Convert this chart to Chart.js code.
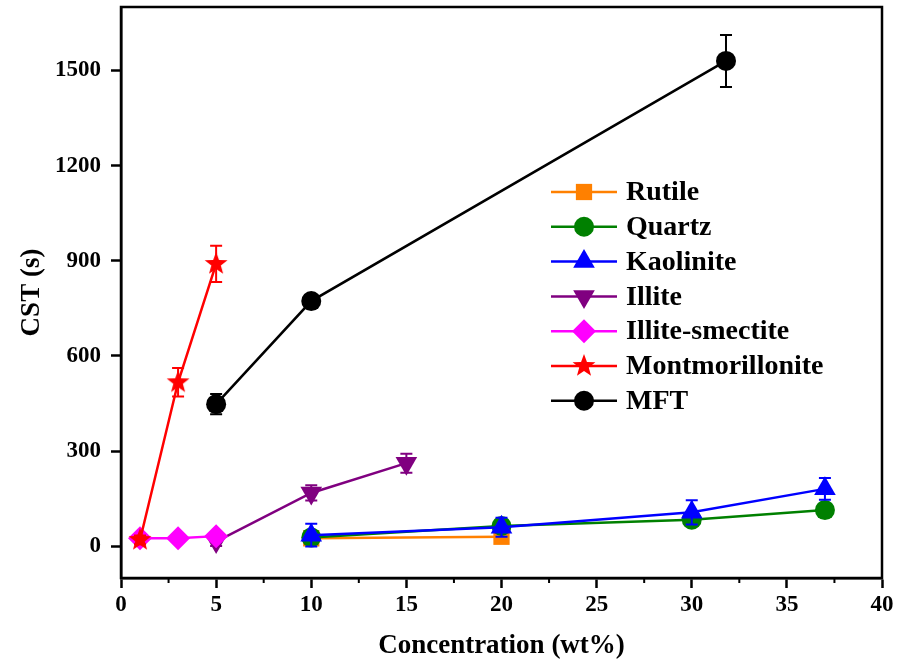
<!DOCTYPE html>
<html>
<head>
<meta charset="utf-8">
<script src="https://cdn.jsdelivr.net/npm/chart.js@4.4.0/dist/chart.umd.min.js"></script>
<style>
  html, body { margin: 0; padding: 0; background: #fff; }
</style>
</head>
<body>
<canvas id="cstChart" width="898" height="662"></canvas>
<script>
// data
var seriesNames = ["Rutile", "Quartz", "Kaolinite", "Illite", "Illite-smectite", "Montmorillonite", "MFT"];

var rutileX = [10, 20];
var rutileY = [25, 30];
var rutileErr = [5, 5];

var quartzX = [10, 20, 30, 37];
var quartzY = [28, 64, 84, 114];
var quartzErr = [8, 10, 10, 8];

var kaoliniteX = [10, 20, 30, 37];
var kaoliniteY = [35, 60, 107, 181];
var kaoliniteErr = [36, 30, 38, 34];

var illiteX = [5, 10, 15];
var illiteY = [15, 168, 262];
var illiteErr = [14, 24, 30];

var illiteSmectiteX = [1, 3, 5];
var illiteSmectiteY = [25, 25, 32];
var illiteSmectiteErr = [4, 4, 4];

var montX = [1, 3, 5];
var montY = [20, 517, 890];
var montErr = [14, 45, 57];

var mftX = [5, 10, 31.8];
var mftY = [448, 773, 1530];
var mftErr = [32, 10, 82];

var xTickValues = [0, 5, 10, 15, 20, 25, 30, 35, 40];
var xMinorTicks = [2.5, 7.5, 12.5, 17.5, 22.5, 27.5, 32.5, 37.5];
var yTickValues = [0, 300, 600, 900, 1200, 1500];

var colors = ["#FF8000", "#008000", "#0000FF", "#800080", "#FF00FF", "#FF0000", "#000000"];

// filled five point star for montmorillonite
function makeStar(color, outer, inner) {
    var c = document.createElement("canvas");
    var s = Math.ceil(outer * 2 + 2);
    c.width = s; c.height = s;
    var g = c.getContext("2d");
    g.fillStyle = color;
    g.beginPath();
    for (var i = 0; i < 10; i++) {
        var r = i % 2 === 0 ? outer : inner;
        var a = -Math.PI / 2 + i * Math.PI / 5;
        var px = s / 2 + r * Math.cos(a), py = s / 2 + r * Math.sin(a);
        if (i === 0) g.moveTo(px, py); else g.lineTo(px, py);
    }
    g.closePath();
    g.fill();
    return c;
}
var starImg = makeStar("#FF0000", 12, 5);

var markers = [
    { pointStyle: "rect", radius: 11.5, rotation: 0 },
    { pointStyle: "circle", radius: 10, rotation: 0 },
    { pointStyle: "triangle", radius: 12.5, rotation: 0 },
    { pointStyle: "triangle", radius: 12.5, rotation: 180 },
    { pointStyle: "rectRot", radius: 12, rotation: 0 },
    { pointStyle: starImg, radius: 12, rotation: 0 },
    { pointStyle: "circle", radius: 10, rotation: 0 }
];

var xs = [rutileX, quartzX, kaoliniteX, illiteX, illiteSmectiteX, montX, mftX];
var ys = [rutileY, quartzY, kaoliniteY, illiteY, illiteSmectiteY, montY, mftY];
var errs = [rutileErr, quartzErr, kaoliniteErr, illiteErr, illiteSmectiteErr, montErr, mftErr];

var datasets = seriesNames.map(function (name, i) {
    return {
        label: name,
        data: xs[i].map(function (x, j) { return { x: x, y: ys[i][j] }; }),
        errors: errs[i],
        showLine: true,
        borderColor: colors[i],
        backgroundColor: colors[i],
        borderWidth: 2.5,
        pointStyle: markers[i].pointStyle,
        pointRadius: markers[i].radius,
        pointRotation: markers[i].rotation,
        pointBorderWidth: 0,
        pointHoverRadius: markers[i].radius,
        order: 10 - i
    };
});

var errorBars = {
    id: "errorBars",
    afterDatasetDraw: function (chart, args) {
        var ds = chart.data.datasets[args.index];
        var yScale = chart.scales.y;
        var ctx = chart.ctx;
        ctx.save();
        ctx.strokeStyle = ds.borderColor;
        ctx.lineWidth = 2;
        args.meta.data.forEach(function (pt, j) {
            var v = ds.data[j].y, e = ds.errors[j];
            var top = yScale.getPixelForValue(v + e);
            var bot = yScale.getPixelForValue(v - e);
            ctx.beginPath();
            ctx.moveTo(pt.x, top); ctx.lineTo(pt.x, bot);
            ctx.moveTo(pt.x - 6, top); ctx.lineTo(pt.x + 6, top);
            ctx.moveTo(pt.x - 6, bot); ctx.lineTo(pt.x + 6, bot);
            ctx.stroke();
        });
        ctx.restore();
    }
};

var frameAndLegend = {
    id: "frameAndLegend",
    afterDraw: function (chart) {
        var ctx = chart.ctx, a = chart.chartArea;
        ctx.save();
        ctx.strokeStyle = "#000";
        ctx.lineWidth = 2.5;
        ctx.strokeRect(a.left, a.top, a.right - a.left, a.bottom - a.top);
        // minor ticks on x
        ctx.lineWidth = 2;
        ctx.beginPath();
        xMinorTicks.forEach(function (v) {
            var px = chart.scales.x.getPixelForValue(v);
            ctx.moveTo(px, a.bottom); ctx.lineTo(px, a.bottom + 5);
        });
        ctx.stroke();

        // legend inside plot
        var lx = a.left + 430, ly = a.top + 185, step = 34.8;
        seriesNames.forEach(function (name, i) {
            var y = ly + i * step;
            ctx.strokeStyle = colors[i];
            ctx.fillStyle = colors[i];
            ctx.lineWidth = 2.5;
            ctx.beginPath();
            ctx.moveTo(lx, y); ctx.lineTo(lx + 66, y);
            ctx.stroke();
            Chart.helpers.drawPoint(ctx, {
                pointStyle: markers[i].pointStyle,
                radius: markers[i].radius,
                rotation: markers[i].rotation,
                borderWidth: 0
            }, lx + 33, y);
            ctx.fillStyle = "#000";
            ctx.font = "bold 28px 'Liberation Serif'";
            ctx.textAlign = "left";
            ctx.textBaseline = "middle";
            ctx.fillText(name, lx + 75, y + 1);
        });
        ctx.restore();
    }
};

var tickFont = { family: "'Liberation Serif'", size: 23, weight: "bold" };
var titleFont = { family: "'Liberation Serif'", size: 27, weight: "bold" };

var config = {
    type: "scatter",
    data: { datasets: datasets },
    options: {
        responsive: false,
        animation: false,
        layout: { autoPadding: false, padding: { left: 0, top: 7, right: 16, bottom: 0 } },
        plugins: { legend: { display: false }, tooltip: { enabled: false } },
        scales: {
            x: {
                type: "linear",
                min: 0, max: 40,
                afterBuildTicks: function (s) { s.ticks = xTickValues.map(function (v) { return { value: v }; }); },
                afterFit: function (s) { s.height = 84; s.paddingLeft = 0; s.paddingRight = 0; },
                ticks: { font: tickFont, color: "#000", padding: 3, maxRotation: 0, callback: function (v) { return String(v); } },
                grid: { drawOnChartArea: false, tickLength: 10, tickColor: "#000", tickWidth: 2.5 },
                border: { color: "#000", width: 2.5 },
                title: { display: true, text: "Concentration (wt%)", font: titleFont, color: "#000", padding: { top: 3, bottom: 0 } }
            },
            y: {
                type: "linear",
                min: -100, max: 1700,
                afterBuildTicks: function (s) { s.ticks = yTickValues.map(function (v) { return { value: v }; }); },
                afterFit: function (s) { s.width = 121; s.paddingTop = 0; s.paddingBottom = 0; },
                ticks: { font: tickFont, color: "#000", padding: 10, callback: function (v) { return String(v); } },
                grid: { drawOnChartArea: false, tickLength: 10, tickColor: "#000", tickWidth: 2.5 },
                border: { color: "#000", width: 2.5 },
                title: { display: true, text: "CST (s)", font: titleFont, color: "#000", padding: { top: 16, bottom: 0 } }
            }
        }
    },
    plugins: [errorBars, frameAndLegend]
};

var cstChart = new Chart(document.getElementById("cstChart"), config);
</script>
</body>
</html>
